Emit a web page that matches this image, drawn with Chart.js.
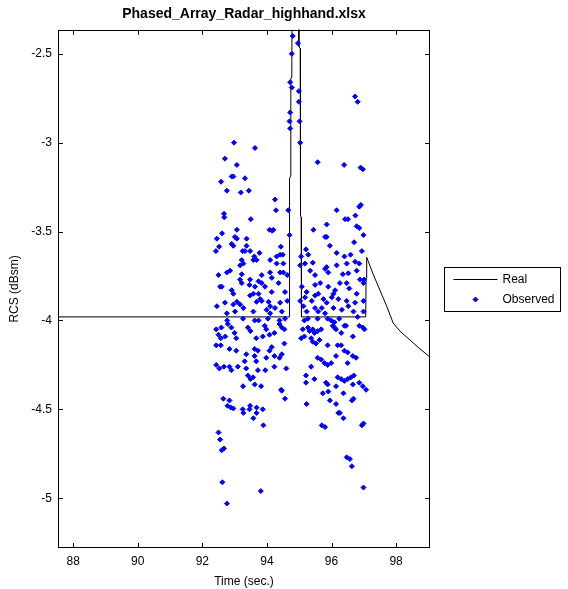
<!DOCTYPE html>
<html>
<head>
<meta charset="utf-8">
<script src="https://cdn.jsdelivr.net/npm/chart.js@4.4.1/dist/chart.umd.min.js"></script>
<style>
  html, body { margin: 0; padding: 0; background: #fff; }
  #wrap { width: 568px; height: 589px; }
</style>
</head>
<body>
<div id="wrap"><canvas id="rcsChart" width="568" height="589"></canvas></div>
<script>
// "Real" trace (time in sec, RCS in dBsm)
const realTime = [87.53, 94.69, 94.70, 94.73, 94.74, 94.77, 94.78, 94.98, 94.99, 95.03, 95.04, 95.06,
                  95.07, 97.06, 97.07, 97.09, 97.29, 97.50, 97.71, 97.91, 98.12, 98.43, 98.74, 99.05];
const realRcs  = [-3.98, -3.98, -3.20, -3.19, -2.64, -2.63, -2.2, -2.2, -2.46, -2.47, -3.41, -3.42,
                  -3.98, -3.98, -3.76, -3.645, -3.74, -3.83, -3.92, -4.015, -4.06, -4.11, -4.16, -4.206];

// "Observed" samples
const obsTime = [
  94.80, 94.96, 94.77, 94.72, 94.77, 94.99, 96.73, 96.81, 94.99,
  94.72, 94.70, 95.01, 94.72, 92.98, 93.63, 95.03, 92.70,
  93.07, 95.57, 96.39, 96.90, 96.97, 92.91, 92.96, 93.32, 92.58, 92.76,
  93.19, 93.44, 94.25, 94.28, 94.66, 92.67, 92.68, 93.50, 96.16, 96.86,
  96.91, 96.42, 96.51, 96.74, 95.85, 93.07, 94.08, 94.16, 94.20, 95.44,
  96.78, 96.86, 92.61, 92.45, 93.01, 93.07, 93.37, 94.70, 95.80, 95.85,
  96.99, 96.70, 92.52, 92.42, 92.91, 92.96, 93.37, 94.43, 95.95, 95.21,
  93.25, 93.32, 93.48, 93.77, 94.30, 94.41, 94.49, 93.61, 95.06, 95.28,
  96.16, 96.40, 96.59, 96.94, 93.22,
  93.27, 93.17, 93.58, 93.68, 94.10, 94.30, 94.51, 95.03,
  95.18, 95.42, 95.85, 96.16, 96.47, 96.73, 96.86,
  92.50, 92.76, 92.86, 93.22, 93.17, 93.48, 93.84, 94.10, 94.15, 94.41, 94.51,
  94.63, 95.34, 95.49, 95.80, 95.90, 96.35, 96.52, 96.78, 96.88, 97.01,
  92.55, 92.60, 92.91, 92.96, 93.22, 93.46, 93.63, 93.74, 93.84, 93.94, 94.15, 94.36,
  94.56, 95.08, 95.23, 95.49, 95.65, 95.90, 96.11, 96.26, 96.47, 96.55, 96.78, 96.99,
  92.45, 92.70, 92.96, 93.07, 93.17, 93.48, 93.58, 93.74, 93.79, 93.68, 93.84, 94.05, 94.10, 94.41,
  94.63, 95.03, 95.18, 95.39, 95.49, 95.59, 95.75, 95.85, 96.01, 96.06, 96.21, 96.47, 96.73, 96.99,
  92.76, 93.01, 93.27, 93.58, 93.99, 94.10, 94.25, 94.46,
  95.13, 95.23, 95.49, 95.59, 95.70, 95.80, 96.06, 96.32, 96.52, 96.68, 96.99,
  // below the flat part, left group
  92.77, 93.26, 93.62, 93.74, 94.03, 94.39, 94.56, 92.79,
  92.43, 92.59, 92.50, 92.90, 93.00, 93.41, 93.49, 93.93, 93.98, 94.39, 94.46, 94.54,
  92.57, 92.71, 93.05, 93.67, 93.87, 94.08, 94.23,
  92.43, 92.57, 92.84, 93.05, 93.62, 93.72, 94.08, 94.15, 94.54,
  93.36, 93.62, 93.98, 94.23, 94.39, 94.46, 93.31, 93.67,
  92.43, 92.53, 92.67, 92.84, 92.90, 93.10, 93.36, 93.72, 93.95, 94.23, 94.60,
  93.41, 93.49, 93.57, 93.26, 93.62, 93.82, 94.44,
  // below the flat part, right group
  95.16, 95.27, 95.57, 95.88, 95.99, 96.09, 96.24, 96.40, 96.81, 96.86, 96.97, 97.02,
  95.11, 95.27, 95.32, 95.42, 95.47, 95.57, 95.68, 96.04, 96.09, 96.14, 96.30, 96.45, 96.66,
  95.06, 95.16, 95.37, 95.42, 95.52, 95.63, 95.88, 96.19, 96.30, 96.40, 96.50, 96.66, 96.76,
  95.57, 95.68, 95.78, 95.88, 95.99, 96.14, 96.50, 95.37,
  95.21, 95.47, 95.83, 96.19, 96.30, 96.40, 96.50, 96.60, 96.69,
  95.21, 95.88, 96.14, 96.66, 96.86, 96.97, 97.07,
  // lower tail
  94.46, 94.56, 95.73, 95.90, 96.37, 95.95,
  92.65, 92.84, 92.78, 92.88, 92.96, 93.25, 93.27, 93.48, 93.46,
  93.68, 93.68, 93.87, 93.58, 93.89, 95.23, 96.14, 96.68, 96.63,
  96.26, 96.21, 96.37, 95.70, 95.80, 96.99, 96.94,
  92.50, 92.55, 92.60, 92.67, 96.47, 96.57, 96.63, 92.62, 93.81, 96.99, 92.76
];
const obsRcs = [
  -2.40, -2.44, -2.50, -2.66, -2.69, -2.71, -2.74, -2.77, -2.77,
  -2.83, -2.88, -2.88, -2.92, -3.00, -3.03, -3.00, -3.09,
  -3.125, -3.11, -3.125, -3.14, -3.15, -3.19, -3.19, -3.20, -3.22, -3.27,
  -3.28, -3.27, -3.32, -3.38, -3.38, -3.40, -3.42, -3.43, -3.38, -3.36,
  -3.35, -3.43, -3.43, -3.41, -3.46, -3.49, -3.49, -3.495, -3.49, -3.49,
  -3.47, -3.48, -3.51, -3.54, -3.53, -3.54, -3.54, -3.52, -3.53, -3.53,
  -3.52, -3.56, -3.585, -3.61, -3.57, -3.58, -3.58, -3.585, -3.58, -3.60,
  -3.61, -3.61, -3.61, -3.62, -3.64, -3.63, -3.63, -3.64, -3.64, -3.63,
  -3.62, -3.64, -3.63, -3.61, -3.66,
  -3.68, -3.69, -3.66, -3.66, -3.66, -3.68, -3.68, -3.69,
  -3.68, -3.675, -3.70, -3.69, -3.68, -3.67, -3.68,
  -3.745, -3.73, -3.72, -3.74, -3.77, -3.77, -3.745, -3.73, -3.76, -3.73, -3.73,
  -3.745, -3.72, -3.745, -3.71, -3.73, -3.74, -3.735, -3.72, -3.77, -3.77,
  -3.81, -3.81, -3.83, -3.85, -3.79, -3.80, -3.81, -3.78, -3.79, -3.81, -3.84, -3.79,
  -3.84, -3.81, -3.84, -3.80, -3.79, -3.81, -3.83, -3.79, -3.79, -3.82, -3.85, -3.79,
  -3.92, -3.90, -3.91, -3.895, -3.91, -3.86, -3.85, -3.85, -3.88, -3.895, -3.89, -3.895, -3.92, -3.90,
  -3.89, -3.89, -3.87, -3.89, -3.86, -3.85, -3.88, -3.90, -3.87, -3.85, -3.88, -3.89, -3.90, -3.89,
  -3.96, -3.95, -3.93, -3.95, -3.94, -3.96, -3.93, -3.95,
  -3.92, -3.95, -3.93, -3.95, -3.93, -3.96, -3.93, -3.94, -3.92, -3.95, -3.95,
  // below the flat part, left group
  -4.00, -3.99, -4.00, -4.00, -3.99, -4.00, -3.99, -4.02,
  -4.05, -4.04, -4.08, -4.04, -4.07, -4.04, -4.06, -4.03, -4.05, -4.02, -4.04, -4.05,
  -4.10, -4.09, -4.10, -4.10, -4.09, -4.08, -4.07,
  -4.14, -4.14, -4.16, -4.17, -4.16, -4.17, -4.17, -4.15, -4.13,
  -4.19, -4.20, -4.21, -4.20, -4.21, -4.19, -4.23, -4.23,
  -4.25, -4.27, -4.26, -4.26, -4.28, -4.26, -4.27, -4.28, -4.28, -4.26, -4.27,
  -4.31, -4.33, -4.32, -4.37, -4.36, -4.37, -4.39,
  // below the flat part, right group
  -4.00, -3.99, -3.99, -3.99, -4.00, -4.01, -3.99, -4.03, -3.98, -4.03, -4.04, -4.05,
  -4.05, -4.04, -4.06, -4.05, -4.07, -4.06, -4.05, -4.03, -4.04, -4.05, -4.07, -4.03, -4.09,
  -4.10, -4.09, -4.10, -4.12, -4.13, -4.11, -4.14, -4.14, -4.14, -4.17, -4.18, -4.20, -4.21,
  -4.21, -4.22, -4.24, -4.25, -4.24, -4.20, -4.24, -4.26,
  -4.31, -4.33, -4.35, -4.32, -4.33, -4.34, -4.33, -4.32, -4.31,
  -4.35, -4.36, -4.37, -4.36, -4.35, -4.37, -4.39,
  // lower tail
  -4.395, -4.44, -4.41, -4.40, -4.41, -4.45,
  -4.44, -4.45, -4.48, -4.49, -4.495, -4.50, -4.52, -4.48, -4.50,
  -4.49, -4.52, -4.50, -4.55, -4.59, -4.47, -4.47, -4.44, -4.45,
  -4.52, -4.52, -4.55, -4.59, -4.60, -4.58, -4.59,
  -4.63, -4.67, -4.73, -4.72, -4.77, -4.78, -4.82, -4.91, -4.96, -4.94, -5.03
];

const xTicks = [88, 90, 92, 94, 96, 98];
const yTicks = [-5, -4.5, -4, -3.5, -3, -2.5];
const xRange = [87.53, 99.05];
const yRange = [-5.28, -2.365];

Chart.defaults.font.family = '"Liberation Sans", Arial, Helvetica, sans-serif';
Chart.defaults.font.size = 12;
Chart.defaults.color = '#000';

const toPoints = (xs, ys) => xs.map((t, i) => ({ x: t, y: ys[i] }));

// box around the axes and inward tick marks, matlab style
const frameTicks = {
  id: 'frameTicks',
  afterDraw(chart) {
    const { ctx, chartArea: a, scales: { x, y } } = chart;
    ctx.save();
    ctx.strokeStyle = '#000';
    ctx.lineWidth = 1;
    ctx.beginPath();
    xTicks.forEach(v => {
      const px = Math.round(x.getPixelForValue(v)) + 0.5;
      ctx.moveTo(px, a.bottom); ctx.lineTo(px, a.bottom - 5);
      ctx.moveTo(px, a.top); ctx.lineTo(px, a.top + 5);
    });
    yTicks.forEach(v => {
      const py = Math.round(y.getPixelForValue(v)) + 0.5;
      ctx.moveTo(a.left, py); ctx.lineTo(a.left + 5, py);
      ctx.moveTo(a.right, py); ctx.lineTo(a.right - 5, py);
    });
    ctx.stroke();
    ctx.strokeRect(Math.round(a.left) + 0.5, Math.round(a.top) + 0.5,
                   Math.round(a.right - a.left) - 1, Math.round(a.bottom - a.top) - 1);
    ctx.restore();
  }
};

const boxLegend = {
  id: 'boxLegend',
  afterDraw(chart) {
    const { ctx, chartArea: a } = chart;
    const left = Math.round(a.right) + 14.5;
    const top = Math.round((a.top + a.bottom) / 2) - 21.5;
    const w = 116, h = 44;
    ctx.save();
    ctx.fillStyle = '#fff';
    ctx.fillRect(left, top, w, h);
    ctx.strokeStyle = '#000';
    ctx.lineWidth = 1;
    ctx.strokeRect(left, top, w, h);

    ctx.beginPath();
    ctx.moveTo(left + 9, top + 12);
    ctx.lineTo(left + 53, top + 12);
    ctx.stroke();

    ctx.fillStyle = '#0000ff';
    ctx.strokeStyle = '#0000ff';
    Chart.helpers.drawPoint(ctx, { pointStyle: 'rectRot', radius: 2.5, borderWidth: 1, rotation: 0 },
                            left + 31, top + 32);

    ctx.fillStyle = '#000';
    ctx.font = '12px "Liberation Sans", Arial, sans-serif';
    ctx.textBaseline = 'middle';
    ctx.fillText('Real', left + 58, top + 12);
    ctx.fillText('Observed', left + 58, top + 32);
    ctx.restore();
  }
};

const ctx = document.getElementById('rcsChart').getContext('2d');

const rcsChart = new Chart(ctx, {
  type: 'scatter',
  data: {
    datasets: [
      {
        label: 'Observed',
        data: toPoints(obsTime, obsRcs),
        pointStyle: 'rectRot',
        pointRadius: 2.5,
        borderWidth: 1,
        backgroundColor: '#0000ff',
        borderColor: '#0000ff',
        order: 0
      },
      {
        label: 'Real',
        data: toPoints(realTime, realRcs),
        showLine: true,
        pointRadius: 0,
        borderColor: '#000',
        borderWidth: 1,
        tension: 0,
        order: 1
      }
    ]
  },
  options: {
    responsive: false,
    animation: false,
    events: [],
    layout: { padding: { right: 138 } },
    plugins: {
      legend: { display: false },
      tooltip: { enabled: false },
      title: {
        display: true,
        text: 'Phased_Array_Radar_highhand.xlsx',
        fullSize: false,
        font: { size: 14, weight: 'bold' },
        padding: { top: 6, bottom: 7 }
      }
    },
    scales: {
      x: {
        type: 'linear',
        min: xRange[0],
        max: xRange[1],
        grid: { display: false, drawTicks: false },
        border: { display: false },
        afterBuildTicks: s => { s.ticks = xTicks.map(v => ({ value: v })); },
        afterFit: s => { s.height = 41; },
        ticks: { padding: 6, maxRotation: 0, callback: v => String(v) },
        title: { display: true, text: 'Time (sec.)', padding: { top: 4, bottom: 0 } }
      },
      y: {
        type: 'linear',
        min: yRange[0],
        max: yRange[1],
        grid: { display: false, drawTicks: false },
        border: { display: false },
        afterBuildTicks: s => { s.ticks = yTicks.map(v => ({ value: v })); },
        afterFit: s => { s.width = 58; },
        ticks: { padding: 6, callback: v => String(v) },
        title: { display: true, text: 'RCS (dBsm)', padding: { top: 7, bottom: 0 } }
      }
    }
  },
  plugins: [frameTicks, boxLegend]
});
</script>
</body>
</html>
